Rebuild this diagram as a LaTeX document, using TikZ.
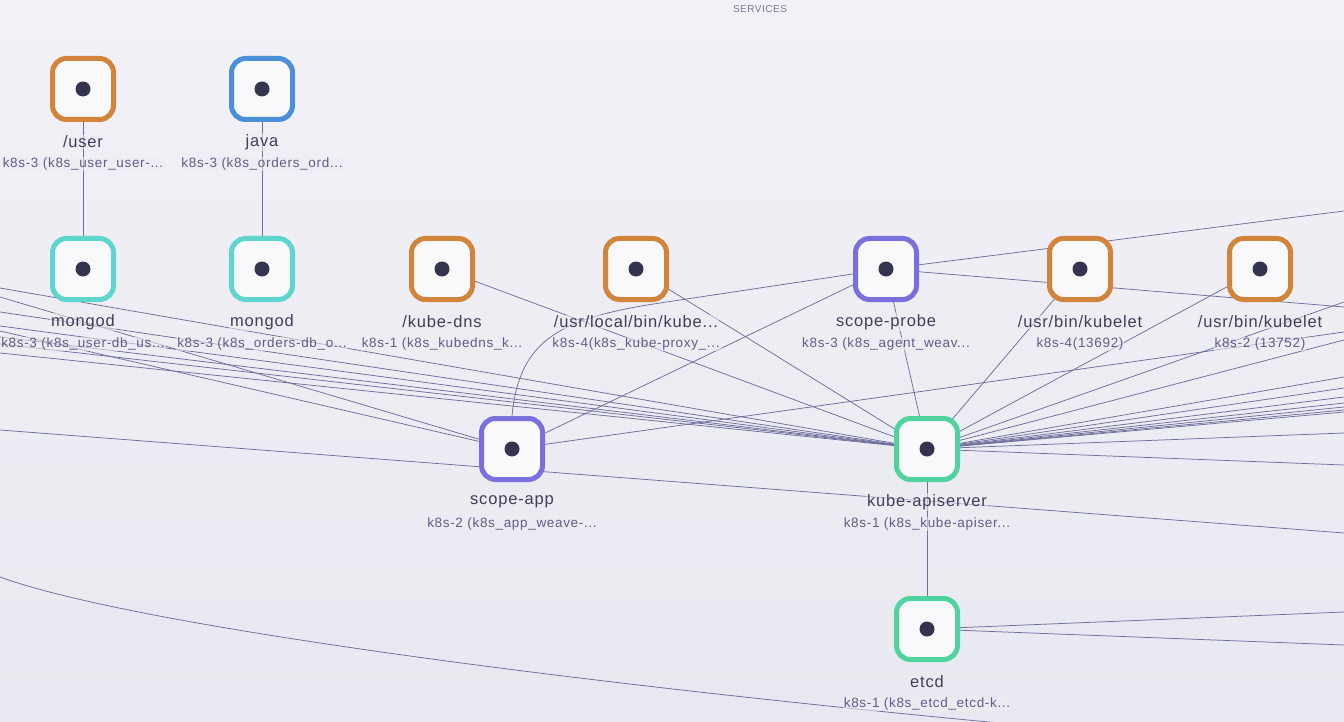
\documentclass[tikz,border=0pt]{standalone}
\usepackage{fontspec}
\setmainfont{Liberation Sans}
\newfontfamily\lblfont[LetterSpace=5]{Liberation Sans}
\pgfdeclarelayer{back}
\pgfdeclarelayer{edges}
\pgfsetlayers{back,edges,main}
\definecolor{bgtop}{HTML}{F2F1F7}
\definecolor{bgbot}{HTML}{E8E8F0}
\definecolor{bgmid}{HTML}{EDECF3}
\definecolor{nodefill}{HTML}{F9F9FC}
\definecolor{dotc}{HTML}{34344F}
\definecolor{corange}{HTML}{D2843A}
\definecolor{cblue}{HTML}{4A8FD8}
\definecolor{cteal}{HTML}{5ED6CE}
\definecolor{cpurple}{HTML}{7A6FDD}
\definecolor{cgreen}{HTML}{50D39F}
\definecolor{edgec}{HTML}{6E6E9C}
\definecolor{namec}{HTML}{3F3F5A}
\definecolor{subc}{HTML}{5E5E88}
\definecolor{titlec}{HTML}{7A7A90}
\tikzset{
  svc/.style={draw=#1, line width=5pt, rounded corners=14pt, minimum size=61pt, fill=nodefill, inner sep=0pt},
  dotmark/.style={circle, fill=dotc, minimum size=15pt, inner sep=0pt},
  namelab/.style={font=\lblfont\fontsize{16.5}{18}\selectfont, text=namec, fill=bgmid, fill opacity=0.55, text opacity=1, inner sep=1pt},
  sublab/.style={font=\lblfont\fontsize{13.5}{15}\selectfont, text=subc, fill=bgmid, fill opacity=0.55, text opacity=1, inner sep=1pt},
  conn/.style={draw=edgec, line width=0.75pt},
}
\newcommand{\svcnode}[6]{%
  \node[svc=#2] (#1) at (#3) {};
  \node[dotmark] (#1dot) at (#1.center) {};
  \node[namelab] (#1name) at ($(#1.center)+(0,53)$) {#4};
  \node[sublab] (#1sub) at ($(#1.center)+(0,75)$) {#5};
}
\usetikzlibrary{calc}
\begin{document}
\begin{tikzpicture}[x=1pt, y=-1pt]
\useasboundingbox (0,0) rectangle (1344,722);
\begin{pgfonlayer}{back}
\shade[top color=bgtop, bottom color=bgbot] (0,0) rectangle (1344,722);
\end{pgfonlayer}
\node[font=\lblfont\fontsize{10}{12}\selectfont, text=titlec] (title) at (760,9) {SERVICES};

\svcnode{user}{corange}{83,89}{/user}{k8s-3 (k8s\_user\_user-...}{}
\svcnode{java}{cblue}{262,89}{java}{k8s-3 (k8s\_orders\_ord...}{}
\svcnode{mongoa}{cteal}{83,269}{mongod}{k8s-3 (k8s\_user-db\_us...}{}
\svcnode{mongob}{cteal}{262,269}{mongod}{k8s-3 (k8s\_orders-db\_o...}{}
\svcnode{kdns}{corange}{442,269}{/kube-dns}{k8s-1 (k8s\_kubedns\_k...}{}
\svcnode{kproxy}{corange}{636,269}{/usr/local/bin/kube...}{k8s-4(k8s\_kube-proxy\_...}{}
\svcnode{probe}{cpurple}{886,269}{scope-probe}{k8s-3 (k8s\_agent\_weav...}{}
\svcnode{kleta}{corange}{1080,269}{/usr/bin/kubelet}{k8s-4(13692)}{}
\svcnode{kletb}{corange}{1260,269}{/usr/bin/kubelet}{k8s-2 (13752)}{}
\svcnode{app}{cpurple}{512,449}{scope-app}{k8s-2 (k8s\_app\_weave-...}{}
\svcnode{api}{cgreen}{927,449}{kube-apiserver}{k8s-1 (k8s\_kube-apiser...}{}
\svcnode{etcd}{cgreen}{927,629}{etcd}{k8s-1 (k8s\_etcd\_etcd-k...}{}

% off-screen endpoints
\foreach \n/\y in {la/288, lb/312, lc/326, ld/337, le/344, lf/353, sa/297, sb/331, lg/430, lh/577}
  \coordinate (\n) at (0,\y);
\foreach \n/\y in {ra/302, rb/340, rc/377, rd/388, re/397, rf/403, rg/407, rh/410, ri/412, rj/433, rk/465, rp/307, rq/211, rs/332, rt/533, ru/612, rv/645}
  \coordinate (\n) at (1344,\y);
\coordinate (bh) at (1130,735);

\begin{pgfonlayer}{edges}
\clip (0,0) rectangle (1344,722);
\draw[conn] (user.center) -- (mongoa.center);
\draw[conn] (java.center) -- (mongob.center);
\draw[conn] (api.center) -- (etcd.center);
\draw[conn] (kdns.center) -- (api.center);
\draw[conn] (kproxy.center) -- (api.center);
\draw[conn] (probe.center) -- (api.center);
\draw[conn] (probe.center) -- (app.center);
\draw[conn] (kleta.center) -- (api.center);
\draw[conn] (kletb.center) -- (api.center);
\draw[conn] (probe.center) -- (rp);
\draw[conn] (app.center) -- (rs);
\draw[conn] (lg) -- (rt);
\draw[conn] (app.north) .. controls (519,340) and (560,318) .. (660,303) -- (probe.center) -- (rq);
\foreach \n in {la,lb,lc,ld,le,lf} \draw[conn] (\n) -- (api.center);
\foreach \n in {sa,sb} \draw[conn] (\n) -- (app.center);
\foreach \n in {ra,rb,rc,rd,re,rf,rg,rh,ri,rj,rk} \draw[conn] (api.center) -- (\n);
\foreach \n in {ru,rv} \draw[conn] (etcd.center) -- (\n);
\draw[conn] (lh) .. controls (140,628) and (620,690) .. (bh);
\end{pgfonlayer}
\end{tikzpicture}
\end{document}
